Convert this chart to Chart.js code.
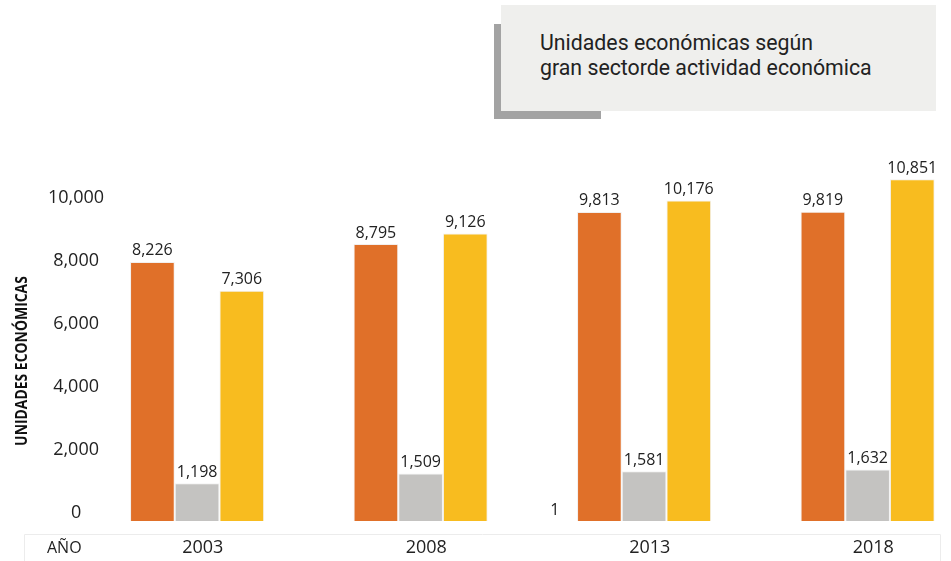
<!DOCTYPE html>
<html lang="es">
<head>
<meta charset="utf-8">
<title>Unidades económicas</title>
<script src="https://cdn.jsdelivr.net/npm/chart.js@4/dist/chart.umd.min.js"></script>
<style>
  html, body { margin: 0; padding: 0; background: #fff; overflow: hidden; }
  #wrap { position: relative; width: 960px; height: 561px; }
  #titulo-sombra { position: absolute; left: 494px; top: 24px; width: 107px; height: 95px; background: #a3a3a3; }
  #titulo { position: absolute; left: 501px; top: 5px; width: 435px; height: 106px; background: #efefed;
            box-sizing: border-box; padding: 25px 0 0 39px; font-family: Roboto, sans-serif; font-size: 21.3px;
            line-height: 25px; color: #222; }
  #grafico { position: absolute; left: 0; top: 0; }
</style>
</head>
<body>
<div id="wrap">
  <div id="titulo-sombra"></div>
  <div id="titulo">Unidades económicas según<br>gran sectorde actividad económica</div>
  <canvas id="grafico" width="960" height="561"></canvas>
</div>
<script>
// Datos
const anios = ['2003', '2008', '2013', '2018'];
const serieOtros = [null, null, 1, null];
const serieNaranja = [8226, 8795, 9813, 9819];
const serieGris = [1198, 1509, 1581, 1632];
const serieAmarilla = [7306, 9126, 10176, 10851];
const marcasY = [0, 2000, 4000, 6000, 8000, 10000];

const fuente = "'Open Sans', 'Noto Sans', sans-serif";

// Etiquetas de valor encima de cada barra
const etiquetasBarras = {
  id: 'etiquetasBarras',
  afterDatasetsDraw(chart) {
    const ctx = chart.ctx;
    ctx.save();
    ctx.font = '16px ' + fuente;
    ctx.fillStyle = '#222';
    ctx.textAlign = 'center';
    ctx.textBaseline = 'bottom';
    chart.data.datasets.forEach((ds, i) => {
      chart.getDatasetMeta(i).data.forEach((bar, j) => {
        const v = ds.data[j];
        if (v == null) return;
        ctx.fillText(v.toLocaleString('en-US'), bar.x, bar.y - 3);
      });
    });
    ctx.restore();
  }
};

// Fila inferior tipo tabla con "AÑO" y título del eje vertical
const extras = {
  id: 'extras',
  afterDraw(chart) {
    const ctx = chart.ctx;
    ctx.save();
    ctx.strokeStyle = '#ececec';
    ctx.lineWidth = 1;
    ctx.beginPath();
    ctx.moveTo(24.5, 561);
    ctx.lineTo(24.5, 534.5);
    ctx.lineTo(940.5, 534.5);
    ctx.lineTo(940.5, 561);
    ctx.stroke();
    ctx.font = '16px ' + fuente;
    ctx.fillStyle = '#222';
    ctx.textBaseline = 'middle';
    ctx.fillText('AÑO', 47, 548);

    // título vertical (letra condensada)
    ctx.translate(22, 361);
    ctx.rotate(-Math.PI / 2);
    ctx.scale(0.87, 1);
    ctx.font = 'bold 16px ' + fuente;
    ctx.fillStyle = '#111';
    ctx.textAlign = 'center';
    ctx.fillText('UNIDADES ECONÓMICAS', 0, 0);
    ctx.restore();
  }
};

new Chart(document.getElementById('grafico'), {
  type: 'bar',
  data: {
    labels: anios,
    datasets: [
      { label: 'Otros', data: serieOtros, backgroundColor: '#ffffff', borderColor: '#dce3ee', borderWidth: 1 },
      { label: 'Sector 1', data: serieNaranja, backgroundColor: '#e07029', borderColor: '#f2efee', borderWidth: 1 },
      { label: 'Sector 2', data: serieGris, backgroundColor: '#c4c3c1', borderColor: '#f2f2f2', borderWidth: 1 },
      { label: 'Sector 3', data: serieAmarilla, backgroundColor: '#f8bc1f', borderColor: '#f2f0ea', borderWidth: 1 }
    ]
  },
  options: {
    responsive: false,
    animation: false,
    layout: { padding: { top: 143, right: 3, left: 0, bottom: 0 } },
    categoryPercentage: 0.8,
    barPercentage: 1.0,
    plugins: {
      legend: { display: false },
      tooltip: { enabled: false }
    },
    scales: {
      x: {
        grid: { display: false, drawTicks: false },
        border: { display: false },
        ticks: { font: { family: fuente, size: 18 }, color: '#222', padding: 16, labelOffset: 28, maxRotation: 0 },
        afterFit: s => { s.height = 40; }
      },
      y: {
        min: 0,
        max: 12000,
        grid: { display: false, drawTicks: false },
        border: { display: false },
        afterBuildTicks: s => { s.ticks = marcasY.map(v => ({ value: v })); },
        afterFit: s => { s.width = 63; },
        ticks: {
          mirror: true,
          crossAlign: 'center',
          padding: -15,
          labelOffset: -8,
          font: { family: fuente, size: 18 },
          color: '#222',
          callback: v => v.toLocaleString('en-US')
        }
      }
    }
  },
  plugins: [etiquetasBarras, extras]
});
</script>
</body>
</html>
